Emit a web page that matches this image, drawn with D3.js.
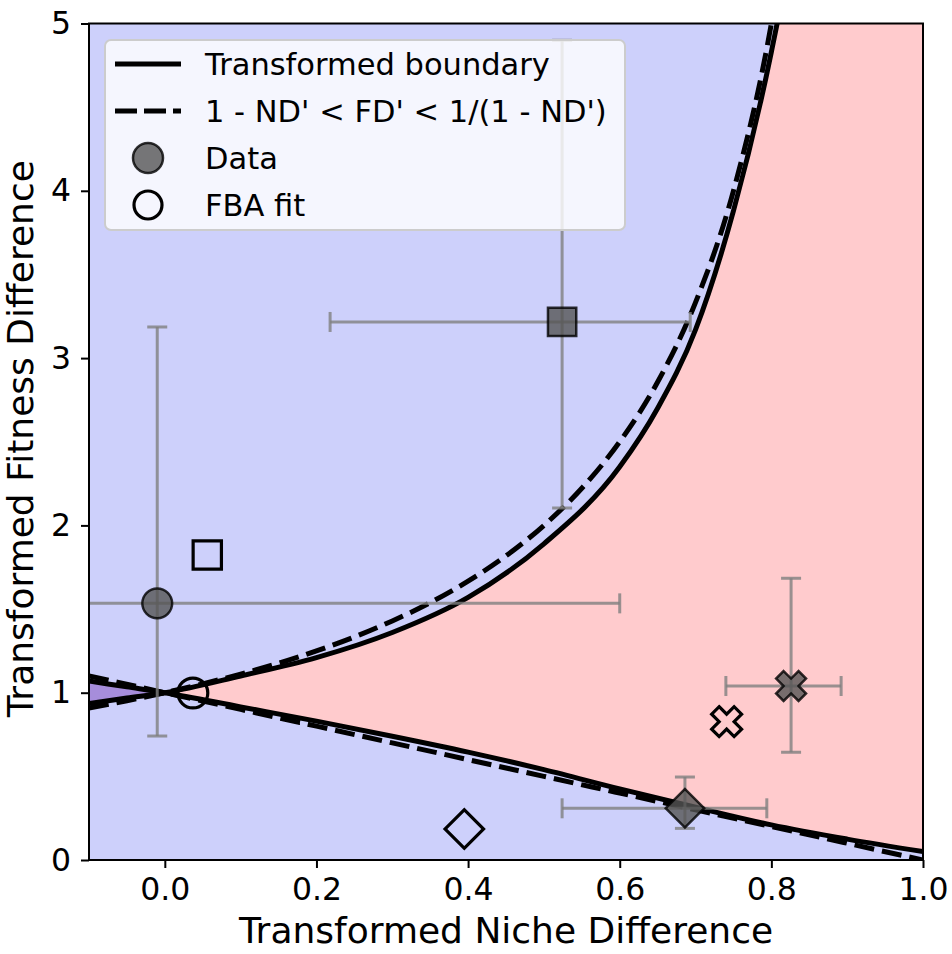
<!DOCTYPE html>
<html>
<head>
<meta charset="utf-8">
<script src="https://cdn.jsdelivr.net/npm/d3@7"></script>
<style>
  body { margin: 0; background: white; }
  text { font-family: "DejaVu Sans", sans-serif; }
</style>
</head>
<body>
<script>
// axis ticks
const xTicks = [0.0, 0.2, 0.4, 0.6, 0.8, 1.0];
const yTicks = [0, 1, 2, 3, 4, 5];

// transformed boundary
const upperX = [-0.1, -0.05, 0, 0.1, 0.2, 0.3, 0.4, 0.5, 0.6, 0.65, 0.7, 0.75, 0.8, 0.82, 0.84];
const upperY = [0.935, 0.968, 1.0, 1.10, 1.21, 1.36, 1.57, 1.89, 2.35, 2.70, 3.17, 3.88, 4.83, 5.3, 5.9];
const lowerX = [-0.1, -0.05, 0, 0.1, 0.2, 0.3, 0.4, 0.5, 0.6, 0.7, 0.8, 0.9, 1.0];
const lowerY = [1.07, 1.035, 1.0, 0.915, 0.83, 0.74, 0.645, 0.54, 0.425, 0.315, 0.21, 0.125, 0.05];

// 1 - ND' < FD' < 1/(1 - ND')
const simpleLowX = [-0.1, 0, 0.1, 0.2, 0.3, 0.4, 0.5, 0.6, 0.7, 0.8, 0.9, 1.0];
const simpleLowY = [1.1, 1.0, 0.9, 0.8, 0.7, 0.6, 0.5, 0.4, 0.3, 0.2, 0.1, 0.0];
const simpleHighX = [-0.1, -0.05, 0, 0.05, 0.1, 0.15, 0.2, 0.25, 0.3, 0.35, 0.4, 0.45, 0.5, 0.55, 0.6, 0.65, 0.7, 0.75, 0.8, 0.82, 0.84];
const simpleHighY = [0.909, 0.952, 1.0, 1.053, 1.111, 1.176, 1.25, 1.333, 1.429, 1.538, 1.667, 1.818, 2.0, 2.222, 2.5, 2.857, 3.333, 4.0, 5.0, 5.556, 6.25];

// data points with error bars, and the FBA fits
const shapes = ["circle", "square", "diamond", "x"];
const dataX = [-0.01, 0.524, 0.686, 0.826];
const dataY = [1.534, 3.216, 0.309, 1.04];
const xErrLow = [-0.62, 0.218, 0.524, 0.740];
const xErrHigh = [0.600, 0.693, 0.794, 0.892];
const yErrLow = [0.741, 2.104, 0.189, 0.644];
const yErrHigh = [3.186, 4.90, 0.496, 1.684];
const fitX = [0.037, 0.056, 0.395, 0.741];
const fitY = [0.998, 1.823, 0.185, 0.827];

const legendLabels = ["Transformed boundary", "1 - ND' < FD' < 1/(1 - ND')", "Data", "FBA fit"];

const w = 952;
const h = 954;
const padL = 89, padR = 923, padT = 23.5, padB = 860;

const blue = "#cdd0fb";
const pink = "#ffcbcd";
const purple = "#a68ddb";

const x = d3.scaleLinear().domain([-0.1, 1.0]).range([padL, padR]);
const y = d3.scaleLinear().domain([0, 5]).range([padB, padT]);

const svg = d3.select("body")
              .append("svg")
              .attr("width", w)
              .attr("height", h);

svg.append("clipPath")
   .attr("id", "plot-clip")
   .append("rect")
   .attr("x", padL)
   .attr("y", padT)
   .attr("width", padR - padL)
   .attr("height", padB - padT);

const plot = svg.append("g").attr("clip-path", "url(#plot-clip)");

const pairs = (xs, ys) => xs.map((v, i) => [v, ys[i]]);
const upper = pairs(upperX, upperY);
const lower = pairs(lowerX, lowerY);

const line = d3.line()
               .x(d => x(d[0]))
               .y(d => y(d[1]))
               .curve(d3.curveMonotoneX);

const yTop = 6;

// regions
plot.append("rect")
    .attr("x", padL).attr("y", padT)
    .attr("width", padR - padL).attr("height", padB - padT)
    .attr("fill", blue);

plot.append("path")
    .datum(lower.filter(d => d[0] >= 0))
    .attr("fill", pink)
    .attr("d", d3.area().x(d => x(d[0])).y0(d => y(d[1])).y1(y(yTop)).curve(d3.curveMonotoneX));

plot.append("path")
    .datum(upper)
    .attr("fill", blue)
    .attr("d", d3.area().x(d => x(d[0])).y0(d => y(d[1])).y1(y(yTop)).curve(d3.curveMonotoneX));

const negLower = lower.filter(d => d[0] <= 0);
plot.append("path")
    .datum(upper.filter(d => d[0] <= 0).map((d, i) => [d[0], d[1], negLower[i][1]]))
    .attr("fill", purple)
    .attr("d", d3.area().x(d => x(d[0])).y0(d => y(d[1])).y1(d => y(d[2])).curve(d3.curveMonotoneX));

// boundary lines
[upper, lower].forEach(pts => {
  plot.append("path")
      .datum(pts)
      .attr("fill", "none")
      .attr("stroke", "black")
      .attr("stroke-width", 5)
      .attr("d", line);
});

[pairs(simpleLowX, simpleLowY), pairs(simpleHighX, simpleHighY)].forEach(pts => {
  plot.append("path")
      .datum(pts)
      .attr("fill", "none")
      .attr("stroke", "black")
      .attr("stroke-width", 5)
      .attr("stroke-dasharray", "20,8")
      .attr("d", line);
});

// error bars
const cap = 10;
const errColor = "#808080";
dataX.forEach((dx, i) => {
  const g = plot.append("g")
                .attr("stroke", errColor)
                .attr("stroke-opacity", 0.8)
                .attr("stroke-width", 3);
  const cx = x(dx), cy = y(dataY[i]);
  const x0 = x(xErrLow[i]), x1 = x(xErrHigh[i]);
  const y0 = y(yErrLow[i]), y1 = y(yErrHigh[i]);
  g.append("line").attr("x1", x0).attr("x2", x1).attr("y1", cy).attr("y2", cy);
  g.append("line").attr("x1", cx).attr("x2", cx).attr("y1", y0).attr("y2", y1);
  [x0, x1].forEach(xx => g.append("line").attr("x1", xx).attr("x2", xx).attr("y1", cy - cap).attr("y2", cy + cap));
  [y0, y1].forEach(yy => g.append("line").attr("x1", cx - cap).attr("x2", cx + cap).attr("y1", yy).attr("y2", yy));
});

// marker shapes
function markerPath(shape) {
  if (shape === "circle") return d3.symbol().type(d3.symbolCircle).size(700)();
  if (shape === "square") return d3.symbol().type(d3.symbolSquare).size(800)();
  if (shape === "diamond") return d3.symbol().type(d3.symbolSquare).size(740)();
  return d3.symbol().type(d3.symbolCross).size(560)();
}
function markerRotate(shape) {
  return (shape === "diamond" || shape === "x") ? 45 : 0;
}

plot.selectAll(".data-point")
    .data(shapes)
    .enter()
    .append("path")
    .attr("class", "data-point")
    .attr("d", d => markerPath(d))
    .attr("transform", (d, i) => `translate(${x(dataX[i])},${y(dataY[i])}) rotate(${markerRotate(d)})`)
    .attr("fill", "#555555")
    .attr("fill-opacity", 0.8)
    .attr("stroke", "black")
    .attr("stroke-opacity", 0.8)
    .attr("stroke-width", 2.5);

plot.selectAll(".fit-point")
    .data(shapes)
    .enter()
    .append("path")
    .attr("class", "fit-point")
    .attr("d", d => markerPath(d))
    .attr("transform", (d, i) => `translate(${x(fitX[i])},${y(fitY[i])}) rotate(${markerRotate(d)})`)
    .attr("fill", "none")
    .attr("stroke", "black")
    .attr("stroke-width", 3.2);

// legend
const legend = svg.append("g").attr("id", "legend");
legend.append("rect")
      .attr("x", 105).attr("y", 40)
      .attr("width", 520).attr("height", 190)
      .attr("rx", 6)
      .attr("fill", "white")
      .attr("fill-opacity", 0.8)
      .attr("stroke", "#cccccc")
      .attr("stroke-width", 2);

const rowY = [64, 111, 158, 205];
legend.append("line")
      .attr("x1", 115).attr("x2", 181).attr("y1", rowY[0]).attr("y2", rowY[0])
      .attr("stroke", "black").attr("stroke-width", 5);
legend.append("line")
      .attr("x1", 115).attr("x2", 181).attr("y1", rowY[1]).attr("y2", rowY[1])
      .attr("stroke", "black").attr("stroke-width", 5)
      .attr("stroke-dasharray", "22,7");
legend.append("circle")
      .attr("cx", 148).attr("cy", rowY[2]).attr("r", 15)
      .attr("fill", "#555555").attr("fill-opacity", 0.8)
      .attr("stroke", "black").attr("stroke-opacity", 0.8).attr("stroke-width", 2.5);
legend.append("circle")
      .attr("cx", 148).attr("cy", rowY[3]).attr("r", 14)
      .attr("fill", "none")
      .attr("stroke", "black").attr("stroke-width", 3.2);

legend.selectAll(".legend-label")
      .data(legendLabels)
      .enter()
      .append("text")
      .attr("class", "legend-label")
      .attr("x", 205)
      .attr("y", (d, i) => rowY[i])
      .attr("dy", "0.36em")
      .style("font-size", "30.5px")
      .text(d => d);

// axes
const xAxis = d3.axisBottom(x)
                .tickValues(xTicks)
                .tickFormat(d3.format(".1f"))
                .tickSize(8)
                .tickPadding(10);
const yAxis = d3.axisLeft(y)
                .tickValues(yTicks)
                .tickFormat(d3.format("d"))
                .tickSize(8)
                .tickPadding(10);

const gx = svg.append("g")
              .attr("transform", `translate(0, ${padB})`)
              .call(xAxis);
const gy = svg.append("g")
              .attr("transform", `translate(${padL}, 0)`)
              .call(yAxis);

[gx, gy].forEach(g => {
  g.select(".domain").remove();
  g.selectAll(".tick line").attr("stroke", "black").attr("stroke-width", 2);
  g.selectAll(".tick text")
   .attr("fill", "black")
   .style("font-family", "'DejaVu Sans', sans-serif")
   .style("font-size", "31.5px");
});

svg.append("rect")
   .attr("x", padL).attr("y", padT)
   .attr("width", padR - padL).attr("height", padB - padT)
   .attr("fill", "none")
   .attr("stroke", "black")
   .attr("stroke-width", 2);

// axis titles
svg.append("text")
   .attr("x", (padL + padR) / 2)
   .attr("y", 943)
   .attr("text-anchor", "middle")
   .style("font-size", "36px")
   .text("Transformed Niche Difference");

svg.append("text")
   .attr("transform", `translate(33, ${(padT + padB) / 2 - 3}) rotate(-90)`)
   .attr("text-anchor", "middle")
   .style("font-size", "36px")
   .text("Transformed Fitness Difference");
</script>
</body>
</html>
